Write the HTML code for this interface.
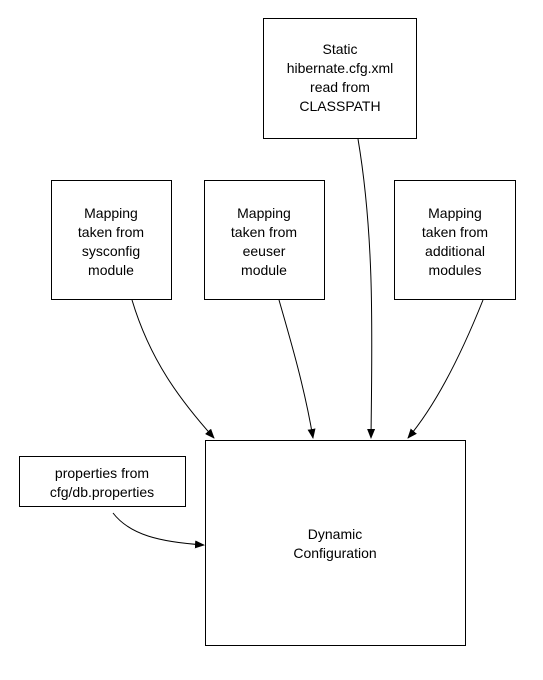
<!DOCTYPE html>
<html><head><style>
body{margin:0;background:#fff;}
svg text{font-family:"Liberation Sans",Arial,sans-serif;font-size:14px;fill:#000;}
</style></head><body>
<svg width="543" height="675" viewBox="0 0 543 675" xmlns="http://www.w3.org/2000/svg">
<defs><marker id="a" markerWidth="10" markerHeight="8" refX="9" refY="4" orient="auto" markerUnits="userSpaceOnUse"><path d="M0,0 L10,4 L0,8 z" fill="#000"/></marker></defs>
<g fill="none" stroke="#000" stroke-width="1">
<rect x="263.5" y="18.5" width="153" height="120"/>
<rect x="51.5" y="180.5" width="120" height="119"/>
<rect x="204.5" y="180.5" width="120" height="119"/>
<rect x="394.5" y="180.5" width="121" height="119"/>
<rect x="19.5" y="456.5" width="166" height="50"/>
<rect x="205.5" y="440.5" width="260" height="205"/>
<path d="M132,300 C150,360 180,400 214,438" marker-end="url(#a)"/>
<path d="M279,300 C292,345 305,390 313,438" marker-end="url(#a)"/>
<path d="M358,139 C375,240 372,340 371,438" marker-end="url(#a)"/>
<path d="M483,300 C465,345 440,400 408,438" marker-end="url(#a)"/>
<path d="M113,513 C130,535 160,542 204,545" marker-end="url(#a)"/>
</g>
<g text-anchor="middle">
<text x="340" y="54">Static</text><text x="340" y="73">hibernate.cfg.xml</text><text x="340" y="92">read from</text><text x="340" y="111">CLASSPATH</text>
<text x="111" y="218">Mapping</text><text x="111" y="237">taken from</text><text x="111" y="256">sysconfig</text><text x="111" y="275">module</text>
<text x="264" y="218">Mapping</text><text x="264" y="237">taken from</text><text x="264" y="256">eeuser</text><text x="264" y="275">module</text>
<text x="455" y="218">Mapping</text><text x="455" y="237">taken from</text><text x="455" y="256">additional</text><text x="455" y="275">modules</text>
<text x="102" y="478">properties from</text><text x="102" y="497">cfg/db.properties</text>
<text x="335" y="539">Dynamic</text><text x="335" y="558">Configuration</text>
</g>
</svg>
</body></html>
